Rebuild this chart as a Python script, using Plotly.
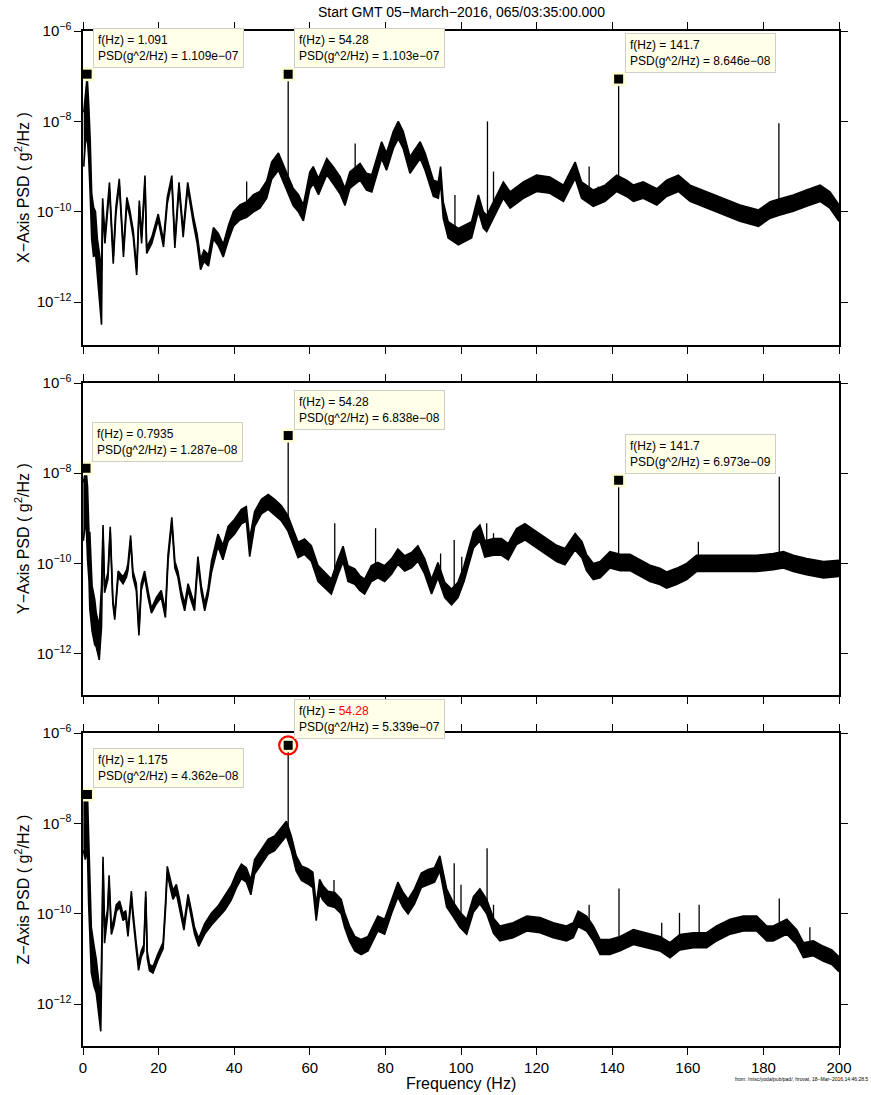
import numpy as np
import plotly.graph_objects as go
from plotly.subplots import make_subplots

# ---------------- X axis panel: band envelope (log10 of PSD, g^2/Hz) ----------------
x_freq = [0.2, 0.6, 1.1, 1.5, 1.9, 2.3, 2.8, 3.3, 3.8, 4.3,
          4.9, 5.2, 5.8, 7.0, 8.0, 8.7, 9.6, 10.7, 11.6, 12.4,
          13.3, 14.2, 14.9, 15.5, 16.4, 16.85, 18.2, 19.9, 21.3, 22.3,
          23.5, 24.3, 25.4, 26.5, 27.7, 29.2, 30.2, 31.1, 32.0, 33.2,
          34.5, 35.8, 37.1, 38.5, 39.8, 41.5, 43.3, 45.1, 46.8, 48.6,
          49.9, 51.7, 53.0, 54.3, 55.6, 57.0, 58.3, 60.0, 60.9, 62.3,
          64.5, 66.2, 68.0, 69.3, 70.6, 73.3, 75.0, 76.4, 77.7, 79.0,
          80.3, 82.1, 83.4, 84.7, 86.5, 87.4, 89.2, 90.5, 92.7, 94.0,
          94.6, 95.3, 96.6, 99.3, 102.8, 104.6, 105.9, 106.8, 109.0, 111.2,
          113.0, 116.5, 120.0, 123.5, 127.1, 130.2, 131.9, 135.0, 138.1, 141.2,
          143.8, 145.6, 148.2, 151.8, 154.4, 157.5, 160.6, 165.0, 169.4, 173.8,
          178.7, 181.8, 184.4, 187.9, 191.4, 195.0, 197.6, 200.0]
x_upper_exp = [-7.8, -7.4, -7.0, -7.6, -8.4, -9.6, -9.9, -10.0, -10.6, -10.9,
               -11.3, -9.7, -10.55, -9.35, -11.0, -9.9, -9.27, -10.85, -9.68, -9.97,
               -10.42, -11.27, -9.75, -10.56, -9.2, -10.79, -10.56, -10.05, -10.64, -9.68,
               -9.2, -10.67, -9.35, -10.42, -9.35, -10.1, -10.5, -11.05, -10.85, -10.95,
               -10.35, -10.48, -10.72, -10.3, -10.0, -9.85, -9.78, -9.62, -9.55, -9.32,
               -8.9, -8.7, -8.95, -9.22, -9.48, -9.62, -9.85, -9.12, -9.0, -9.26,
               -8.82, -9.0, -9.22, -9.48, -9.12, -8.93, -9.15, -9.18, -8.82, -8.45,
               -8.7, -8.22, -8.0, -8.22, -8.78, -8.67, -8.45, -8.7, -9.3, -9.34,
               -9.0, -9.78, -10.22, -10.37, -10.22, -9.63, -10.0, -10.08, -9.71, -9.34,
               -9.56, -9.34, -9.19, -9.23, -9.41, -8.9, -9.34, -9.52, -9.41, -9.19,
               -9.3, -9.41, -9.34, -9.49, -9.3, -9.19, -9.41, -9.56, -9.71, -9.85,
               -9.96, -9.78, -9.71, -9.63, -9.52, -9.41, -9.56, -9.85]
x_lower_exp = [-9.0, -8.5, -8.3, -8.8, -9.6, -10.6, -11.0, -10.9, -11.4, -11.9,
               -12.5, -9.9, -10.7, -9.5, -11.15, -10.05, -9.4, -11.0, -9.82, -10.1,
               -10.56, -11.4, -9.88, -10.7, -9.33, -10.92, -10.7, -10.18, -10.78, -9.82,
               -9.33, -10.8, -9.48, -10.56, -9.48, -10.26, -10.7, -11.28, -11.1, -11.2,
               -10.6, -10.75, -11.0, -10.62, -10.32, -10.18, -10.12, -10.0, -9.92, -9.7,
               -9.28, -9.08, -9.33, -9.6, -9.86, -10.0, -10.2, -9.5, -9.38, -9.62,
               -9.18, -9.38, -9.6, -9.86, -9.48, -9.3, -9.52, -9.56, -9.18, -8.82,
               -9.08, -8.6, -8.38, -8.6, -9.15, -9.03, -8.82, -9.08, -9.66, -9.7,
               -9.35, -10.14, -10.58, -10.73, -10.58, -9.99, -10.36, -10.44, -10.07, -9.7,
               -9.92, -9.7, -9.55, -9.59, -9.77, -9.26, -9.7, -9.88, -9.77, -9.55,
               -9.66, -9.77, -9.7, -9.85, -9.66, -9.55, -9.77, -9.92, -10.07, -10.21,
               -10.32, -10.14, -10.07, -9.99, -9.88, -9.77, -9.92, -10.21]
x_spike_freq = [1.091, 43.3, 54.28, 72.0, 98.4, 107.0, 108.6, 133.9, 136.3, 141.7, 184.1]
x_spike_top_exp = [-6.955, -9.33, -6.957, -8.49, -9.63, -8.0, -9.11, -9.0, -9.44, -7.063, -8.04]
x_spike_base_exp = [-8.0, -9.9, -9.2, -9.2, -10.4, -10.1, -9.9, -9.5, -9.7, -9.3, -9.8]
x_peak_freq = [1.091, 54.28, 141.7]
x_peak_psd = [1.109e-07, 1.103e-07, 8.646e-08]

# ---------------- Y axis panel ----------------
y_freq = [0.1, 0.79, 1.2, 1.6, 1.8, 2.4, 3.1, 3.5, 4.3, 4.9,
          5.3, 5.7, 6.6, 7.2, 7.9, 8.4, 9.3, 10.6, 11.5, 11.9,
          12.6, 13.2, 14.1, 14.8, 15.4, 16.3, 17.2, 18.1, 19.4, 20.7,
          21.8, 22.5, 23.5, 24.3, 25.1, 26.0, 26.9, 27.8, 28.7, 29.5,
          30.4, 31.3, 32.2, 33.1, 34.0, 35.7, 37.0, 38.4, 40.1, 41.9,
          43.2, 44.1, 45.4, 47.2, 49.0, 50.7, 52.5, 54.2, 55.6, 56.9,
          58.6, 60.4, 62.2, 63.9, 65.7, 67.5, 68.8, 70.1, 71.9, 73.2,
          74.5, 76.3, 78.0, 79.8, 81.6, 83.3, 85.1, 86.9, 88.6, 90.4,
          92.2, 93.9, 95.7, 97.5, 99.2, 100.8, 103.3, 105.0, 106.3, 108.6,
          110.7, 112.5, 114.7, 116.9, 120.0, 122.7, 125.3, 127.5, 130.2, 132.0,
          133.2, 135.0, 136.8, 139.4, 142.1, 144.7, 147.4, 150.0, 152.6, 154.4,
          157.0, 159.7, 162.3, 165.0, 169.4, 173.8, 178.2, 182.6, 185.3, 187.9,
          191.4, 195.9, 200.0]
y_upper_exp = [-8.2, -7.89, -8.3, -9.4, -9.3, -10.5, -10.8, -11.1, -11.4, -10.5,
               -9.15, -10.5, -10.2, -9.19, -10.8, -11.15, -10.17, -10.3, -10.15, -10.0,
               -9.38, -10.17, -10.45, -11.5, -10.45, -10.17, -10.6, -11.0, -10.76, -10.6,
               -11.05, -9.8, -8.98, -9.95, -10.17, -10.6, -10.9, -10.45, -10.7, -10.9,
               -9.85, -10.5, -10.9, -10.55, -9.95, -9.35, -9.6, -9.18, -9.02, -8.8,
               -8.74, -9.45, -8.85, -8.58, -8.47, -8.58, -8.72, -8.94, -9.25, -9.53,
               -9.46, -9.61, -10.05, -10.2, -10.35, -9.9, -9.62, -10.05, -10.12, -10.27,
               -10.35, -10.05, -9.98, -10.05, -9.9, -9.68, -9.83, -9.76, -9.61, -9.9,
               -10.35, -9.98, -10.42, -10.57, -10.42, -10.05, -9.3, -9.15, -9.5, -9.45,
               -9.45, -9.56, -9.23, -9.12, -9.3, -9.45, -9.6, -9.67, -9.34, -9.52,
               -9.8, -10.0, -9.96, -9.74, -9.8, -9.8, -9.93, -10.04, -10.11, -10.19,
               -10.11, -10.0, -9.82, -9.82, -9.82, -9.82, -9.82, -9.78, -9.74, -9.82,
               -9.89, -9.96, -9.93]
y_lower_exp = [-9.5, -9.0, -9.9, -10.4, -11.0, -11.5, -11.8, -11.85, -12.14, -11.4,
               -9.3, -10.65, -10.35, -9.3, -10.9, -11.25, -10.3, -10.45, -10.3, -10.15,
               -9.5, -10.3, -10.6, -11.6, -10.6, -10.3, -10.75, -11.1, -10.9, -10.75,
               -11.2, -9.95, -9.1, -10.1, -10.3, -10.75, -11.05, -10.6, -10.85, -11.05,
               -10.0, -10.65, -11.05, -10.7, -10.2, -9.62, -9.92, -9.5, -9.35, -9.12,
               -9.06, -9.85, -9.18, -8.9, -8.8, -8.92, -9.06, -9.28, -9.6, -9.87,
               -9.8, -9.95, -10.4, -10.54, -10.68, -10.24, -9.96, -10.4, -10.46, -10.6,
               -10.68, -10.4, -10.32, -10.4, -10.24, -10.02, -10.17, -10.1, -9.95, -10.24,
               -10.68, -10.32, -10.76, -10.92, -10.76, -10.4, -9.66, -9.5, -9.86, -9.82,
               -9.82, -9.92, -9.58, -9.48, -9.66, -9.82, -9.96, -10.03, -9.7, -9.88,
               -10.16, -10.36, -10.32, -10.1, -10.16, -10.16, -10.29, -10.4, -10.47, -10.55,
               -10.47, -10.36, -10.18, -10.18, -10.18, -10.18, -10.18, -10.14, -10.1, -10.18,
               -10.25, -10.32, -10.29]
y_spike_freq = [0.7935, 54.28, 66.6, 77.4, 94.6, 98.2, 100.2, 106.8, 108.6, 141.7, 162.8, 184.2]
y_spike_top_exp = [-7.89, -7.165, -9.11, -9.22, -9.78, -9.48, -9.85, -9.11, -9.33, -8.157, -9.52, -8.08]
y_spike_base_exp = [-8.5, -9.0, -10.2, -10.1, -10.2, -10.6, -10.3, -9.6, -9.7, -9.9, -10.0, -9.9]
y_peak_freq = [0.7935, 54.28, 141.7]
y_peak_psd = [1.287e-08, 6.838e-08, 6.973e-09]

# ---------------- Z axis panel ----------------
z_freq = [0.1, 0.6, 1.175, 1.5, 2.2, 2.9, 3.5, 4.3, 4.7, 5.0,
          5.3, 5.7, 6.5, 6.9, 7.5, 8.2, 8.8, 9.7, 10.6, 11.3,
          11.9, 12.8, 13.2, 14.1, 14.7, 15.4, 16.1, 16.6, 17.0, 17.6,
          18.5, 19.8, 21.2, 21.8, 22.3, 23.0, 23.8, 24.7, 25.6, 26.7,
          27.8, 28.7, 29.5, 30.6, 32.2, 34.0, 35.7, 37.5, 39.2, 40.6,
          41.9, 43.2, 44.4, 45.4, 47.2, 49.0, 50.7, 52.5, 53.8, 55.1,
          56.4, 57.8, 59.5, 60.8, 61.7, 62.6, 63.5, 64.8, 66.6, 68.3,
          69.2, 70.5, 71.9, 73.6, 75.4, 76.7, 78.0, 79.8, 81.6, 83.3,
          84.7, 86.0, 87.7, 89.5, 91.3, 93.0, 94.4, 95.7, 96.2, 97.9,
          99.7, 101.5, 103.3, 105.0, 106.8, 108.6, 110.3, 113.8, 117.4, 120.9,
          124.4, 127.9, 129.7, 131.0, 133.2, 135.0, 136.8, 139.4, 142.1, 145.6,
          149.1, 152.6, 155.3, 157.9, 161.5, 165.0, 167.6, 171.2, 174.7, 178.2,
          180.9, 182.6, 186.2, 188.8, 190.6, 193.2, 195.9, 198.1, 200.0]
z_upper_exp = [-7.4, -7.6, -7.36, -8.3, -10.3, -10.7, -11.0, -11.6, -11.9, -10.5,
               -8.74, -10.3, -9.9, -9.15, -10.33, -10.1, -9.8, -9.72, -10.0, -9.93,
               -10.37, -9.5, -9.93, -10.66, -11.1, -10.83, -10.68, -9.5, -10.84, -11.12,
               -11.17, -10.89, -10.63, -9.8, -8.95, -9.2, -9.48, -9.35, -9.7, -10.22,
               -9.57, -9.94, -10.3, -10.55, -10.22, -9.98, -9.83, -9.6, -9.38, -9.1,
               -8.9, -8.98, -9.25, -8.8, -8.57, -8.35, -8.28, -8.1, -7.95, -8.28,
               -8.72, -8.94, -9.0, -9.08, -9.8, -9.24, -9.38, -9.5, -9.53, -9.68,
               -9.97, -10.27, -10.5, -10.57, -10.5, -10.27, -10.05, -10.12, -9.68, -9.3,
               -9.53, -9.68, -9.45, -9.1, -9.02, -8.98, -8.72, -9.3, -9.45, -9.74,
               -9.96, -10.12, -9.62, -9.45, -9.68, -10.1, -10.27, -10.2, -10.05, -10.08,
               -10.2, -10.27, -10.2, -9.94, -10.05, -10.27, -10.57, -10.57, -10.5, -10.35,
               -10.42, -10.5, -10.64, -10.46, -10.42, -10.42, -10.27, -10.12, -10.05, -10.05,
               -10.27, -10.27, -10.12, -10.35, -10.64, -10.6, -10.72, -10.8, -10.95]
z_lower_exp = [-8.6, -8.8, -8.6, -9.8, -11.3, -11.6, -11.75, -12.3, -12.6, -11.0,
               -8.9, -10.65, -10.05, -9.3, -10.46, -10.25, -9.95, -9.85, -10.15, -10.07,
               -10.5, -9.63, -10.07, -10.8, -11.25, -10.96, -10.82, -9.63, -10.98, -11.26,
               -11.31, -11.03, -10.77, -9.95, -9.1, -9.4, -9.68, -9.55, -9.9, -10.36,
               -9.7, -10.08, -10.44, -10.72, -10.45, -10.25, -10.1, -9.92, -9.7, -9.42,
               -9.22, -9.3, -9.58, -9.12, -8.9, -8.68, -8.6, -8.42, -8.28, -8.6,
               -9.05, -9.26, -9.34, -9.42, -10.15, -9.56, -9.7, -9.82, -9.86, -10.0,
               -10.3, -10.6, -10.82, -10.9, -10.82, -10.6, -10.38, -10.45, -10.0, -9.63,
               -9.86, -10.0, -9.78, -9.42, -9.35, -9.3, -9.05, -9.62, -9.85, -10.06,
               -10.3, -10.45, -9.96, -9.78, -10.0, -10.43, -10.6, -10.53, -10.38, -10.42,
               -10.53, -10.6, -10.53, -10.28, -10.38, -10.6, -10.9, -10.9, -10.82, -10.68,
               -10.75, -10.82, -10.97, -10.8, -10.75, -10.75, -10.6, -10.45, -10.38, -10.38,
               -10.6, -10.6, -10.45, -10.68, -10.97, -10.93, -11.05, -11.12, -11.28]
z_spike_freq = [1.175, 54.28, 66.4, 98.2, 100.0, 106.9, 108.6, 133.9, 141.8, 153.1, 157.8, 163.0, 184.2, 192.3]
z_spike_top_exp = [-7.36, -6.273, -9.25, -8.88, -9.36, -8.55, -9.8, -9.8, -9.44, -10.2, -9.98, -9.8, -9.66, -10.3]
z_spike_base_exp = [-8.2, -8.2, -9.7, -9.9, -10.2, -9.9, -10.3, -10.2, -10.5, -10.6, -10.5, -10.5, -10.2, -10.7]
z_peak_freq = [1.175, 54.28]
z_peak_psd = [4.362e-08, 5.339e-07]
z_highlight_index = 1

panel_titles = ["X−Axis PSD ( g<sup>2</sup>/Hz )", "Y−Axis PSD ( g<sup>2</sup>/Hz )",
                "Z−Axis PSD ( g<sup>2</sup>/Hz )"]
y_tick_exps = [-12, -10, -8, -6]
x_ticks = [0, 20, 40, 60, 80, 100, 120, 140, 160, 180, 200]
title_text = "Start GMT 05−March−2016, 065/03:35:00.000"
footer_text = "from: /misc/yoda/pub/pad/, hrovat, 18−Mar−2016,14:46:28.5"

FONT = "Liberation Sans, Arial, Helvetica, sans-serif"
W, H = 871, 1095
ML, MR, MT, MB = 83, 32, 31, 49
PH = H - MT - MB
PW = W - ML - MR

fig = make_subplots(rows=3, cols=1, shared_xaxes=True)

panels = [
    (x_freq, x_upper_exp, x_lower_exp, x_spike_freq, x_spike_top_exp, x_spike_base_exp, x_peak_freq, x_peak_psd),
    (y_freq, y_upper_exp, y_lower_exp, y_spike_freq, y_spike_top_exp, y_spike_base_exp, y_peak_freq, y_peak_psd),
    (z_freq, z_upper_exp, z_lower_exp, z_spike_freq, z_spike_top_exp, z_spike_base_exp, z_peak_freq, z_peak_psd),
]
# pixel extents (top, bottom) of the three plot frames
frames_px = [(31, 345), (383, 695), (733, 1046)]
y_bottom_exp = [-12.947, -12.918, -12.925]

annotations = []
for i, (fr, up, lo, sf, st, sb, pf, pp) in enumerate(panels):
    row = i + 1
    fig.add_trace(go.Scatter(x=fr, y=np.power(10.0, lo), mode="lines",
                             line=dict(color="black", width=1.6), hoverinfo="skip",
                             showlegend=False), row=row, col=1)
    fig.add_trace(go.Scatter(x=fr, y=np.power(10.0, up), mode="lines", fill="tonexty",
                             fillcolor="black", line=dict(color="black", width=1.6),
                             hoverinfo="skip", showlegend=False), row=row, col=1)
    sx, sy = [], []
    for f, t, b in zip(sf, st, sb):
        sx += [f, f, None]
        sy += [10.0 ** b, 10.0 ** t, None]
    fig.add_trace(go.Scatter(x=sx, y=sy, mode="lines", line=dict(color="black", width=1.3),
                             hoverinfo="skip", showlegend=False), row=row, col=1)
    # peak markers with pale halo
    fig.add_trace(go.Scatter(x=pf, y=pp, mode="markers",
                             marker=dict(symbol="square", size=14, color="#FFFFD6", line=dict(width=0)),
                             hoverinfo="skip", showlegend=False, cliponaxis=False), row=row, col=1)
    fig.add_trace(go.Scatter(x=pf, y=pp, mode="markers",
                             marker=dict(symbol="square", size=9, color="black", line=dict(width=0)),
                             hoverinfo="skip", showlegend=False, cliponaxis=False), row=row, col=1)
    if i == 2:
        fig.add_trace(go.Scatter(x=[pf[z_highlight_index]], y=[pp[z_highlight_index]], mode="markers",
                                 marker=dict(symbol="circle-open", size=18, color="red",
                                             line=dict(width=2.2, color="red")),
                                 hoverinfo="skip", showlegend=False, cliponaxis=False), row=row, col=1)
    yref = "y" if i == 0 else f"y{row}"
    xref = "x" if i == 0 else f"x{row}"
    for k, (f, p) in enumerate(zip(pf, pp)):
        fstr = f"{f:.4g}"
        if i == 2 and k == z_highlight_index:
            fstr = f"<span style='color:red'>{fstr}</span>"
        pstr = f"{p:.3e}".replace("-", "−")
        annotations.append(dict(
            x=f, y=np.log10(p), xref=xref, yref=yref, showarrow=False,
            xanchor="left", yanchor="bottom", xshift=6, yshift=6, align="left",
            text=f"f(Hz) = {fstr}<br>PSD(g^2/Hz) = {pstr}",
            font=dict(family=FONT, size=12, color="black"),
            bgcolor="#FFFFEA", bordercolor="#CFCFC8", borderwidth=1, borderpad=4))
    # y-axis title
    top, bot = frames_px[i]
    annotations.append(dict(
        x=(22 - ML) / PW, y=1 - ((top + bot) / 2 - MT) / PH, xref="paper", yref="paper",
        showarrow=False, textangle=-90, xanchor="center", yanchor="middle",
        text=panel_titles[i], font=dict(family=FONT, size=16, color="black")))

annotations.append(dict(x=0.5, y=1 + (MT - 12) / PH, xref="paper", yref="paper", showarrow=False,
                        xanchor="center", yanchor="middle", text=title_text,
                        font=dict(family=FONT, size=14, color="black")))
annotations.append(dict(x=0.5, y=-(1083 - (H - MB)) / PH, xref="paper", yref="paper", showarrow=False,
                        xanchor="center", yanchor="middle", text="Frequency (Hz)",
                        font=dict(family=FONT, size=16, color="black")))
annotations.append(dict(x=(W - 1 - ML) / PW, y=-(1079 - (H - MB)) / PH, xref="paper", yref="paper",
                        showarrow=False, xanchor="right", yanchor="middle", text=footer_text,
                        font=dict(family=FONT, size=5, color="black")))

axis_common = dict(showline=True, linecolor="black", linewidth=1.5, mirror="ticks",
                   ticks="outside", ticklen=7, tickwidth=1.3, tickcolor="black",
                   showgrid=False, zeroline=False)

layout = dict(width=W, height=H, margin=dict(l=ML, r=MR, t=MT, b=MB),
              plot_bgcolor="white", paper_bgcolor="white", showlegend=False,
              annotations=annotations, font=dict(family=FONT, size=14, color="black"))
for i in range(3):
    top, bot = frames_px[i]
    dom = [1 - (bot - MT) / PH, 1 - (top - MT) / PH]
    yname = "yaxis" if i == 0 else f"yaxis{i + 1}"
    xname = "xaxis" if i == 0 else f"xaxis{i + 1}"
    layout[yname] = dict(axis_common, type="log", range=[y_bottom_exp[i], -6], domain=dom,
                         tickvals=[10.0 ** e for e in y_tick_exps],
                         ticktext=[f"10<sup>{str(e).replace('-', '−')}</sup>" for e in y_tick_exps],
                         tickfont=dict(family=FONT, size=15))
    layout[xname] = dict(axis_common, range=[0, 200], tickvals=x_ticks,
                         showticklabels=(i == 2), tickfont=dict(family=FONT, size=15))
fig.update_layout(**layout)

fig.write_html("out.html")
